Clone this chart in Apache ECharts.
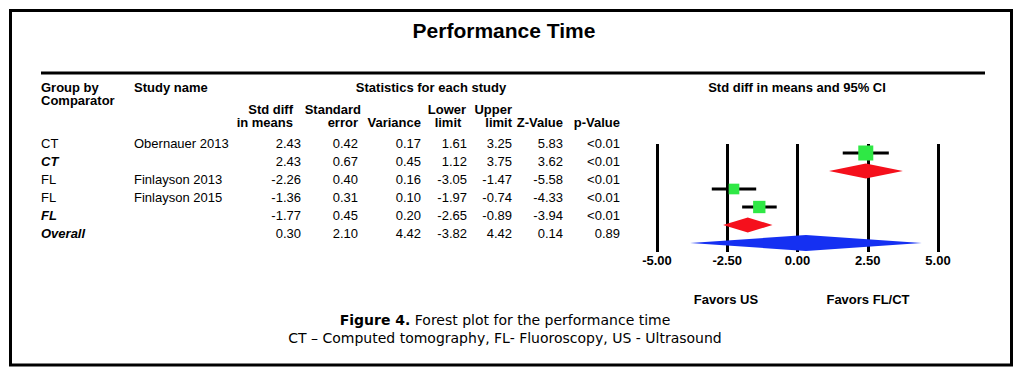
<!DOCTYPE html>
<html><head><meta charset="utf-8">
<script src="https://cdn.jsdelivr.net/npm/echarts@6/dist/echarts.min.js"></script>
<style>html,body{margin:0;padding:0;background:#fff}#c{width:1024px;height:377px}</style>
</head><body><div id="c"></div>
<script>
// ---- data ----
const groups = ['CT', 'CT', 'FL', 'FL', 'FL', 'Overall'];
const studyNames = ['Obernauer 2013', '', 'Finlayson 2013', 'Finlayson 2015', '', ''];
const rowKinds = ['study', 'subtotal', 'study', 'study', 'subtotal', 'overall'];
const stdDiff = [2.43, 2.43, -2.26, -1.36, -1.77, 0.30];
const stdError = [0.42, 0.67, 0.40, 0.31, 0.45, 2.10];
const variance = [0.17, 0.45, 0.16, 0.10, 0.20, 4.42];
const lowerLimit = [1.61, 1.12, -3.05, -1.97, -2.65, -3.82];
const upperLimit = [3.25, 3.75, -1.47, -0.74, -0.89, 4.42];
const zValue = [5.83, 3.62, -5.58, -4.33, -3.94, 0.14];
const pValue = ['<0.01', '<0.01', '<0.01', '<0.01', '<0.01', '0.89'];
const relWeight = [100, 100, 38, 62, 100, 100];
const xTicks = [-5, -2.5, 0, 2.5, 5];

// ---- layout ----
const SANS = '"Liberation Sans", Arial, Helvetica, sans-serif';
const CAP = '"DejaVu Sans", "Liberation Sans", sans-serif';
const numCols = [
  {arr: stdDiff, x: 301}, {arr: stdError, x: 358}, {arr: variance, x: 421},
  {arr: lowerLimit, x: 467}, {arr: upperLimit, x: 512}, {arr: zValue, x: 563}
];
const GREEN = '#2fe845', RED = '#f5101c', BLUE = '#1530f2';

function txt(x, y, text, font, align) {
  return {type: 'text', silent: true, style: {x: x, y: y, text: text, font: font, fill: '#000',
    textAlign: align || 'left', align: align || 'left', textVerticalAlign: 'middle', verticalAlign: 'middle'}};
}

function tableItem(params, api) {
  const i = api.value(0);
  const y = api.coord([0, i])[1];
  const kind = rowKinds[i];
  const gFont = (kind === 'study' ? '' : 'italic bold ') + '13px ' + SANS;
  const f = '13px ' + SANS;
  const ch = [txt(41, y, groups[i], gFont), txt(134, y, studyNames[i], f)];
  numCols.forEach(c => ch.push(txt(c.x, y, c.arr[i].toFixed(2), f, 'right')));
  ch.push(txt(620, y, pValue[i], f, 'right'));
  return {type: 'group', children: ch};
}

function forestItem(params, api) {
  const i = api.value(3);
  const kind = rowKinds[i];
  const lo = api.coord([api.value(0), i]);
  const hi = api.coord([api.value(1), i]);
  const mid = api.coord([api.value(2), i]);
  if (kind === 'study') {
    const s = 8 + 7 * relWeight[i] / 100;
    return {type: 'group', children: [
      {type: 'line', shape: {x1: lo[0], y1: lo[1], x2: hi[0], y2: hi[1]}, style: {stroke: '#000', lineWidth: 3}},
      {type: 'rect', shape: {x: mid[0] - s / 2, y: mid[1] - s / 2, width: s, height: s}, style: {fill: GREEN}}
    ]};
  }
  const h = kind === 'overall' ? 8 : 7.5;
  return {type: 'polygon', shape: {points: [[lo[0], lo[1]], [mid[0], mid[1] - h], [hi[0], hi[1]], [mid[0], mid[1] + h]]},
    style: {fill: kind === 'overall' ? BLUE : RED}};
}

const rowIdx = groups.map((g, i) => i);
const chart = echarts.init(document.getElementById('c'), null, {renderer: 'svg'});
const hb = 'bold 13px ' + SANS;
chart.setOption({
  animation: false,
  backgroundColor: '#fff',
  grid: [
    {left: 657, width: 281, top: 144, height: 108},
    {left: 0, width: 1024, top: 135, height: 107}
  ],
  xAxis: [
    {gridIndex: 0, type: 'value', min: xTicks[0], max: xTicks[xTicks.length - 1], interval: 2.5,
      axisLine: {show: false}, axisTick: {show: false},
      splitLine: {show: true, lineStyle: {color: '#000', width: 3}},
      axisLabel: {margin: 2, formatter: v => v.toFixed(2), fontFamily: SANS, fontWeight: 'bold', fontSize: 13, color: '#000'}},
    {gridIndex: 1, type: 'value', min: 0, max: 1024, show: false}
  ],
  yAxis: [
    {gridIndex: 0, type: 'value', inverse: true, min: -0.5, max: 5.5, show: false},
    {gridIndex: 1, type: 'value', inverse: true, min: -0.5, max: 5.5, show: false}
  ],
  series: [
    {type: 'custom', xAxisIndex: 0, yAxisIndex: 0, clip: false, renderItem: forestItem,
      encode: {x: [0, 1, 2], y: 3},
      data: rowIdx.map(i => [lowerLimit[i], upperLimit[i], stdDiff[i], i])},
    {type: 'custom', xAxisIndex: 1, yAxisIndex: 1, clip: false, renderItem: tableItem,
      encode: {x: 1, y: 0}, data: rowIdx.map(i => [i, 0])}
  ],
  graphic: [
    {type: 'rect', silent: true, shape: {x: 10.5, y: 10.5, width: 1001, height: 354.5},
      style: {fill: 'none', stroke: '#000', lineWidth: 3}},
    txt(504, 30, 'Performance Time', 'bold 21px ' + SANS, 'center'),
    {type: 'line', silent: true, shape: {x1: 41, y1: 73, x2: 985, y2: 73}, style: {stroke: '#000', lineWidth: 3}},
    txt(41, 87, 'Group by', hb), txt(41, 100, 'Comparator', hb),
    txt(134, 87, 'Study name', hb),
    txt(431, 87, 'Statistics for each study', hb, 'center'),
    txt(293, 109, 'Std diff', hb, 'right'), txt(293, 122, 'in means', hb, 'right'),
    txt(361, 109, 'Standard', hb, 'right'), txt(358, 122, 'error', hb, 'right'),
    txt(421, 122, 'Variance', hb, 'right'),
    txt(447, 109, 'Lower', hb, 'center'), txt(448, 122, 'limit', hb, 'center'),
    txt(512, 109, 'Upper', hb, 'right'), txt(512, 122, 'limit', hb, 'right'),
    txt(563, 122, 'Z-Value', hb, 'right'), txt(620, 122, 'p-Value', hb, 'right'),
    txt(797, 87, 'Std diff in means and 95% CI', hb, 'center'),
    txt(726, 299, 'Favors US', hb, 'center'), txt(868, 299, 'Favors FL/CT', hb, 'center'),
    {type: 'text', silent: true, style: {x: 505, y: 320, text: '{b|Figure 4.} Forest plot for the performance time',
      font: '14px ' + CAP, fill: '#000', textAlign: 'center', align: 'center', textVerticalAlign: 'middle', verticalAlign: 'middle',
      rich: {b: {fontWeight: 'bold', fontFamily: CAP, fontSize: 14}}}},
    txt(505, 338, 'CT \u2013 Computed tomography, FL- Fluoroscopy, US - Ultrasound', '14px ' + CAP, 'center')
  ]
});
</script></body></html>
